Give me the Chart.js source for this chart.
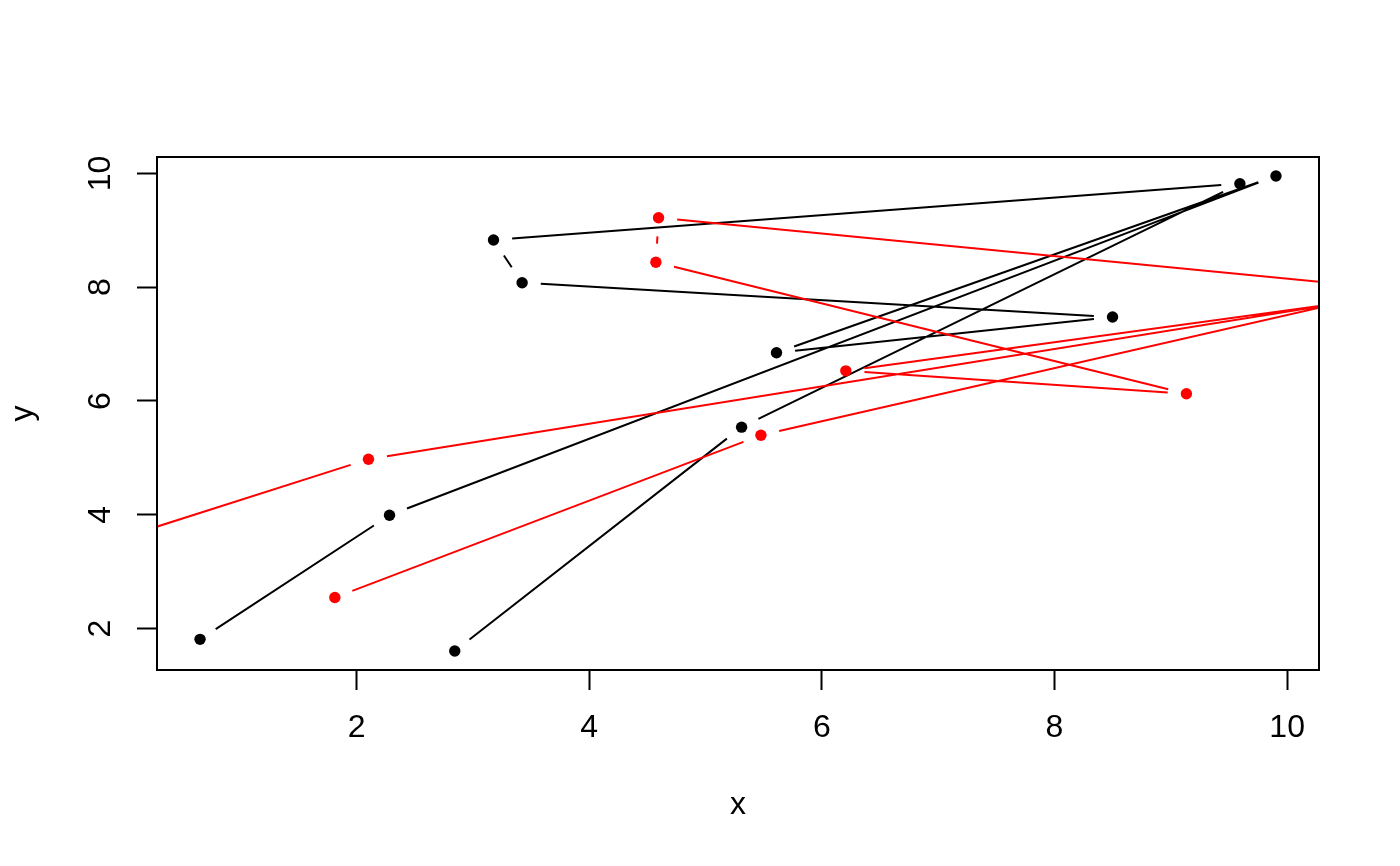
<!DOCTYPE html>
<html>
<head>
<meta charset="utf-8">
<script src="https://cdn.jsdelivr.net/npm/chart.js@4.4.1/dist/chart.umd.min.js"></script>
<style>
  html, body { margin: 0; padding: 0; background: #fff; }
  canvas { display: block; }
</style>
</head>
<body>
<canvas id="plot" width="1400" height="866"></canvas>
<script>
// black series (drawn first, sets the axis ranges), in path order
const blackX = [0.654, 2.283, 9.904, 5.610, 8.499, 3.423, 3.177, 9.594, 5.310, 2.844];
const blackY = [1.811, 3.992, 9.954, 6.847, 7.475, 8.078, 8.829, 9.819, 5.540, 1.606];

// red series, in path order; some points sit outside the plot region and get clipped,
// null breaks the path
const redX = [1.813, 5.476, 10.45, 2.102, -0.30, null, 11.00, 4.596, 4.573, 9.134, 6.206, 10.45];
const redY = [2.545, 5.399, 7.72, 4.977, 3.41, null, 7.95, 9.221, 8.437, 6.126, 6.530, 7.72];

const xTicks = [2, 4, 6, 8, 10];
const yTicks = [2, 4, 6, 8, 10];

// R style limits: data range widened by 4% each side
function rLimits(v) {
    const lo = Math.min(...v), hi = Math.max(...v);
    const pad = (hi - lo) * 0.04;
    return [lo - pad, hi + pad];
}
const [xMin, xMax] = rLimits(blackX);
const [yMin, yMax] = rLimits(blackY);

const FONT = {family: "'Liberation Sans', Arial, sans-serif", size: 32};

function toPoints(xs, ys) {
    return xs.map((x, i) => ({x: x, y: ys[i]}));
}

// type="b": lines between points, stopped short of each point
const gapLines = {
    id: 'gapLines',
    beforeDatasetDraw(chart, args) {
        const ds = chart.data.datasets[args.index];
        const xs = chart.scales.x, ys = chart.scales.y;
        const area = chart.chartArea;
        const ctx = chart.ctx;
        const gap = 18.7;
        ctx.save();
        ctx.beginPath();
        ctx.rect(area.left, area.top, area.right - area.left, area.bottom - area.top);
        ctx.clip();
        ctx.strokeStyle = ds.borderColor;
        ctx.lineWidth = 2;
        ctx.beginPath();
        for (let i = 1; i < ds.data.length; i++) {
            const a = ds.data[i - 1], b = ds.data[i];
            if (a.x == null || b.x == null) continue;
            const x0 = xs.getPixelForValue(a.x), y0 = ys.getPixelForValue(a.y);
            const x1 = xs.getPixelForValue(b.x), y1 = ys.getPixelForValue(b.y);
            const len = Math.hypot(x1 - x0, y1 - y0);
            if (len <= 2 * gap) continue;
            const ux = (x1 - x0) / len, uy = (y1 - y0) / len;
            ctx.moveTo(x0 + ux * gap, y0 + uy * gap);
            ctx.lineTo(x1 - ux * gap, y1 - uy * gap);
        }
        ctx.stroke();
        ctx.restore();
    }
};

const box = {
    id: 'box',
    afterDraw(chart) {
        const a = chart.chartArea, ctx = chart.ctx;
        ctx.save();
        ctx.strokeStyle = '#000';
        ctx.lineWidth = 2;
        ctx.strokeRect(a.left, a.top, a.right - a.left, a.bottom - a.top);
        ctx.restore();
    }
};

new Chart(document.getElementById('plot'), {
    type: 'scatter',
    data: {
        datasets: [{
            label: 'red',
            data: toPoints(redX, redY),
            borderColor: '#ff0000',
            backgroundColor: '#ff0000',
            pointRadius: 5.7,
            pointBorderWidth: 0,
            showLine: false,
            clip: 0,
            order: 1
        }, {
            label: 'black',
            data: toPoints(blackX, blackY),
            borderColor: '#000000',
            backgroundColor: '#000000',
            pointRadius: 5.7,
            pointBorderWidth: 0,
            showLine: false,
            clip: 0,
            order: 2
        }]
    },
    options: {
        responsive: false,
        animation: false,
        devicePixelRatio: 1,
        events: [],
        layout: {padding: {top: 157, right: 81, left: 0, bottom: 0}},
        plugins: {
            legend: {display: false},
            tooltip: {enabled: false}
        },
        scales: {
            x: {
                type: 'linear',
                min: xMin,
                max: xMax,
                afterBuildTicks: s => { s.ticks = xTicks.map(v => ({value: v})); },
                afterFit: s => { s.height = 196; },
                grid: {drawOnChartArea: false, drawTicks: true, tickLength: 20, tickWidth: 2, tickColor: '#000'},
                border: {display: false},
                ticks: {color: '#000', font: FONT, padding: 19, maxRotation: 0, autoSkip: false},
                title: {display: true, text: 'x', color: '#000', font: FONT, padding: {top: 0, bottom: 42}}
            },
            y: {
                type: 'linear',
                min: yMin,
                max: yMax,
                afterBuildTicks: s => { s.ticks = yTicks.map(v => ({value: v})); },
                afterFit: s => { s.width = 157; },
                grid: {drawOnChartArea: false, drawTicks: true, tickLength: 20, tickWidth: 2, tickColor: '#000'},
                border: {display: false},
                ticks: {color: '#000', font: FONT, padding: 18, minRotation: 90, maxRotation: 90, crossAlign: 'center', autoSkip: false},
                title: {display: true, text: 'y', color: '#000', font: FONT, padding: {top: 4, bottom: 0}}
            }
        }
    },
    plugins: [gapLines, box]
});
</script>
</body>
</html>
